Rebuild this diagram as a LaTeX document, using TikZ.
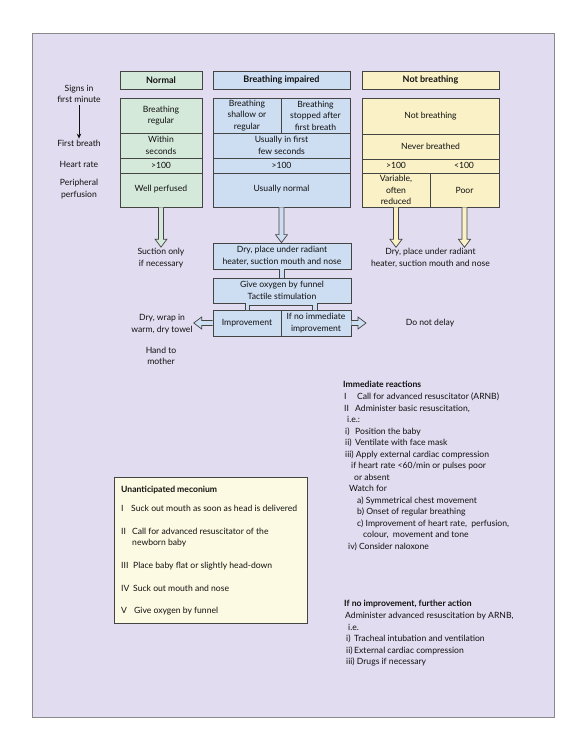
\documentclass[tikz,border=0pt]{standalone}
\usepackage{fontspec}
\setmainfont{Lato}
\usetikzlibrary{calc,arrows.meta}
\definecolor{bg}{HTML}{E1DCEF}
\definecolor{grn}{HTML}{D4E9DA}
\definecolor{blu}{HTML}{CDDDF2}
\definecolor{yel}{HTML}{FAF1C6}
\definecolor{cream}{HTML}{FCFAE2}
\definecolor{edge}{HTML}{444444}
\definecolor{framec}{HTML}{8A8A8A}
\definecolor{ink}{HTML}{111111}
\newcommand\cellfont{\fontsize{8.6}{11.5}\selectfont}
\newcommand\headfont{\fontsize{9}{11}\selectfont\bfseries}
\begin{document}
\begin{tikzpicture}[x=1pt,y=-1pt,
  cell/.style={draw=edge, line width=0.8pt, inner sep=0pt, align=center, font=\cellfont, text=ink},
  lbl/.style={inner sep=1pt, align=center, font=\cellfont, text=ink},
  txt/.style={inner sep=0pt, anchor=base west, font=\cellfont, text=ink},
  harrow/.style={draw=edge, line width=0.7pt},
  hdown/.style={to path={let \p1=(\tikztostart),\p2=(\tikztotarget) in
     (\x1-2.5pt,\y1) -- (\x1-2.5pt,\y2+8pt) -- (\x1-6pt,\y2+8pt) -- (\x1,\y2)
     -- (\x1+6pt,\y2+8pt) -- (\x1+2.5pt,\y2+8pt) -- (\x1+2.5pt,\y1)}},
  hleft/.style={to path={let \p1=(\tikztostart),\p2=(\tikztotarget) in
     (\x1,\y1+2.5pt) -- (\x2+8pt,\y1+2.5pt) -- (\x2+8pt,\y1+6pt) -- (\x2,\y1)
     -- (\x2+8pt,\y1-6pt) -- (\x2+8pt,\y1-2.5pt) -- (\x1,\y1-2.5pt)}},
  hright/.style={to path={let \p1=(\tikztostart),\p2=(\tikztotarget) in
     (\x1,\y1+2.5pt) -- (\x2-8pt,\y1+2.5pt) -- (\x2-8pt,\y1+6pt) -- (\x2,\y1)
     -- (\x2-8pt,\y1-6pt) -- (\x2-8pt,\y1-2.5pt) -- (\x1,\y1-2.5pt)}}
]
\useasboundingbox (0,0) rectangle (587,750);
\fill[white] (0,0) rectangle (587,750);
\draw[fill=bg, draw=framec, line width=1pt] (32,33) rectangle (554,717);

% headers
\node[cell, fill=grn, minimum width=82, minimum height=18, font=\headfont] (nhead) at (161,80) {Normal};
\node[cell, fill=blu, minimum width=137, minimum height=18, font=\headfont] (ihead) at (281.5,80) {Breathing impaired};
\node[cell, fill=yel, minimum width=137, minimum height=18, font=\headfont] (bhead) at (430.5,80) {Not breathing};

% normal column
\node[cell, fill=grn, minimum width=82, minimum height=35] (n1) at (161,115.5) {Breathing\\regular};
\node[cell, fill=grn, minimum width=82, minimum height=25] (n2) at (161,145.5) {Within\\seconds};
\node[cell, fill=grn, minimum width=82, minimum height=15] (n3) at (161,165.5) {>100};
\node[cell, fill=grn, minimum width=82, minimum height=34] (n4) at (161,190) {\raisebox{3pt}{Well perfused}};

% impaired column
\node[cell, fill=blu, minimum width=68, minimum height=35] (i1a) at (247,115.5) {Breathing\\shallow or\\regular};
\node[cell, fill=blu, minimum width=69, minimum height=35] (i1b) at (315.5,115.5) {Breathing\\stopped after\\first breath};
\node[cell, fill=blu, minimum width=137, minimum height=25] (i2) at (281.5,145.5) {Usually in first\\few seconds};
\node[cell, fill=blu, minimum width=137, minimum height=15] (i3) at (281.5,165.5) {>100};
\node[cell, fill=blu, minimum width=137, minimum height=34] (i4) at (281.5,190) {\raisebox{3pt}{Usually normal}};

% not breathing column
\node[cell, fill=yel, minimum width=137, minimum height=36] (b1) at (430.5,116) {Not breathing};
\node[cell, fill=yel, minimum width=137, minimum height=14] (b3) at (430.5,166) {};
\node[cell, fill=yel, minimum width=137, minimum height=25] (b2) at (430.5,146.5) {Never breathed};
\node[lbl] (b3a) at (396,165.5) {>100};
\node[lbl] (b3b) at (464,165.5) {<100};
\node[cell, fill=yel, minimum width=68, minimum height=34] (b4a) at (396,190) {Variable,\\often\\reduced};
\node[cell, fill=yel, minimum width=69, minimum height=34] (b4b) at (464.5,190) {Poor};

% left labels
\node[lbl] (signs) at (79,94) {Signs in\\first minute};
\node[lbl] (fb) at (79,143) {First breath};
\node[lbl] (hr) at (79,164) {Heart rate};
\node[lbl] (pp) at (79,189) {Peripheral\\perfusion};
\draw[-{Stealth[length=5pt,width=4.5pt]}, line width=0.9pt, ink] ($(signs.south)+(0,1)$) -- (fb.north);

% flow boxes
\node[cell, fill=blu, minimum width=138, minimum height=26] (dry) at (282,256) {Dry, place under radiant\\heater, suction mouth and nose};
\node[cell, fill=blu, minimum width=138, minimum height=25] (oxy) at (282,290.5) {Give oxygen by funnel\\Tactile stimulation};
\node[cell, fill=blu, minimum width=68, minimum height=26] (imp) at (247,323) {Improvement};
\node[cell, fill=blu, minimum width=70, minimum height=26] (noimp) at (316,323) {If no immediate\\improvement};

% labels
\node[lbl] (sucn) at (161,258) {Suction only\\if necessary};
\node[lbl] (nbdry) at (430.5,258) {Dry, place under radiant\\heater, suction mouth and nose};
\node[lbl] (drywrap) at (162,324) {Dry, wrap in\\warm, dry towel};
\node[lbl] (hand) at (161,356) {Hand to\\mother};
\node[lbl] (delay) at (430,323) {Do not delay};
\coordinate (rtip) at (366,323);

% hollow arrows
\draw[harrow, fill=grn] (n4.south) to[hdown] (sucn.north);
\draw[harrow, fill=blu] (i4.south) to[hdown] (dry.north);
\draw[harrow, fill=yel] (b4a.south) to[hdown] (nbdry.north);
\draw[harrow, fill=yel] (b4b.south) to[hdown] (nbdry.north);
\draw[harrow, fill=blu] (imp.west) to[hleft] (drywrap.east);
\draw[harrow, fill=blu] (noimp.east) to[hright] (rtip);

% connector dry -> oxy
\fill[blu] ($(dry.south)+(-2.5,0)$) rectangle ($(oxy.north)+(2.5,0)$);
\draw[harrow] ($(dry.south)+(-2.5,0)$) -- ($(oxy.north)+(-2.5,0)$);
\draw[harrow] ($(dry.south)+(2.5,0)$) -- ($(oxy.north)+(2.5,0)$);

% bracket oxy -> imp / noimp
\fill[blu] (245,303) -- (245,310) -- (249,310) -- (249,305.5) -- (312,305.5) -- (312,310) -- (317,310) -- (317,303) -- cycle;
\draw[harrow] (245,303) -- (245,310);
\draw[harrow] (249,310) -- (249,305.5) -- (312,305.5) -- (312,310);
\draw[harrow] (317,310) -- (317,303);

% Immediate reactions
\node[inner sep=0pt, anchor=north west, align=left, font=\cellfont, text=ink] (imm) at (343,381) {%
\textbf{Immediate reactions}\\[0.5pt]
\hspace*{1pt}\makebox[13pt][l]{I}Call for advanced resuscitator (ARNB)\\
\hspace*{1pt}\makebox[11pt][l]{II}Administer basic resuscitation,\\
\hspace*{4pt}i.e.:\\
\hspace*{2pt}\makebox[10pt][l]{i)}Position the baby\\
\hspace*{2pt}\makebox[10pt][l]{ii)}Ventilate with face mask\\
\hspace*{2pt}iii) Apply external cardiac compression\\
\hspace*{8pt}if heart rate <60/min or pulses poor\\
\hspace*{11pt}or absent\\
\hspace*{6pt}Watch for\\
\hspace*{14pt}a) Symmetrical chest movement\\
\hspace*{14pt}b) Onset of regular breathing\\
\hspace*{14pt}c) Improvement of heart rate,\ \ perfusion,\\
\hspace*{20pt}colour,\ \ movement and tone\\
\hspace*{5pt}iv) Consider naloxone};

% Meconium box
\node[draw=edge, line width=0.8pt, fill=cream, minimum width=193, minimum height=146, inner sep=0pt] (mec) at (210.5,550) {};
\node[txt, font=\cellfont\bfseries] (m0) at (121,492) {Unanticipated meconium};
\node[txt] (m1) at (121,511) {\makebox[10pt][l]{I}Suck out mouth as soon as head is delivered};
\node[txt] (m2) at (121,534) {\makebox[11pt][l]{II}Call for advanced resuscitator of the};
\node[txt] (m2b) at (132,545) {newborn baby};
\node[txt] (m3) at (121,568) {\makebox[12pt][l]{III}Place baby flat or slightly head-down};
\node[txt] (m4) at (121,591) {\makebox[12pt][l]{IV}Suck out mouth and nose};
\node[txt] (m5) at (121,613) {\makebox[13pt][l]{V}Give oxygen by funnel};

% Further action
\node[inner sep=0pt, anchor=north west, align=left, font=\cellfont, text=ink] (fa) at (344,600) {%
\textbf{If no improvement, further action}\\[0.5pt]
\hspace*{1pt}Administer advanced resuscitation by ARNB,\\
\hspace*{4pt}i.e.\\
\hspace*{2pt}\makebox[8pt][l]{i)}Tracheal intubation and ventilation\\
\hspace*{2pt}\makebox[8pt][l]{ii)}External cardiac compression\\
\hspace*{2pt}iii) Drugs if necessary};
\end{tikzpicture}
\end{document}
